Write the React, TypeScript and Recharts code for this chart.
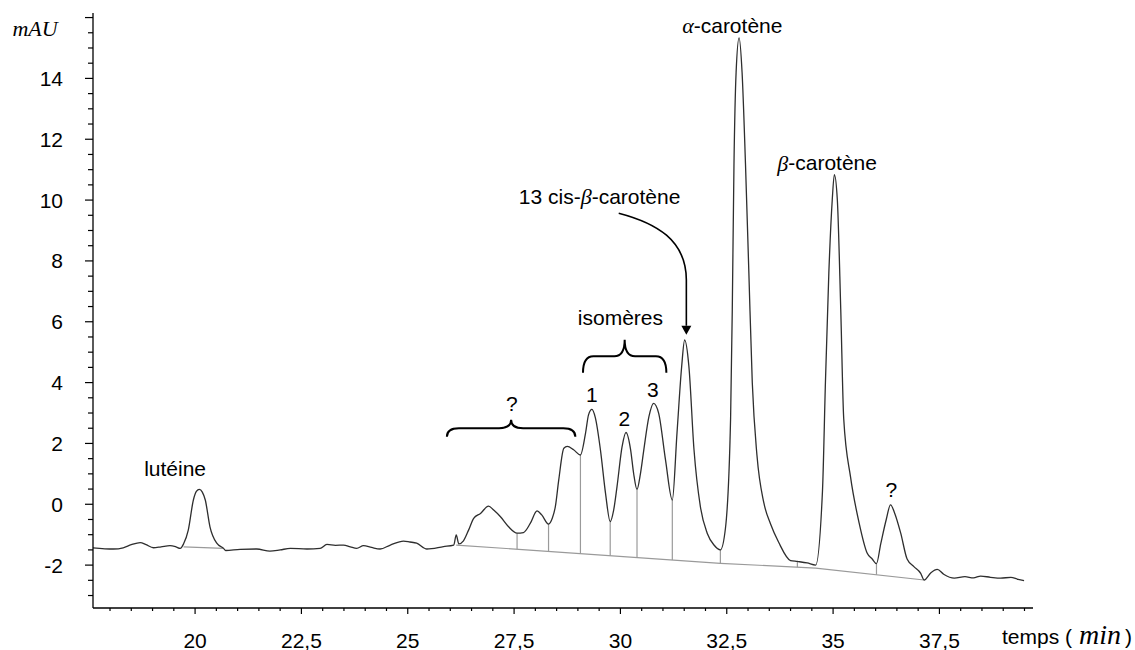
import React from "react";
import {
  LineChart,
  Line,
  XAxis,
  YAxis,
  ReferenceLine,
  ReferenceDot,
  ReferenceArea,
} from "recharts";

document.body.style.margin = "0";

// retention time (min) and absorbance (mAU)
const times = [
  17.6, 18.08, 18.31, 18.5, 18.71, 18.85, 19.02, 19.2, 19.41, 19.55, 19.65,
  19.73, 19.84, 19.96, 20.03, 20.1, 20.17, 20.24, 20.35, 20.51, 20.67, 20.72,
  21.06, 21.45, 21.76, 22.0, 22.24, 22.63, 22.94, 23.1, 23.3, 23.49, 23.65,
  23.8, 23.96, 24.15, 24.35, 24.59, 24.9, 25.05, 25.21, 25.45, 25.84, 26.08,
  26.14, 26.2, 26.31, 26.43, 26.55, 26.71, 26.9, 27.02, 27.18, 27.37, 27.57,
  27.72, 27.88, 28.04, 28.15, 28.31, 28.4, 28.47, 28.55, 28.67, 28.75, 28.9,
  29.06, 29.18, 29.25, 29.33, 29.41, 29.53, 29.65, 29.76, 29.84, 29.92, 30.04,
  30.13, 30.24, 30.31, 30.39, 30.47, 30.55, 30.67, 30.78, 30.9, 31.06, 31.22,
  31.33, 31.44, 31.51, 31.61, 31.73, 31.88, 32.04, 32.2, 32.35, 32.47, 32.59,
  32.63, 32.67, 32.72, 32.79, 32.86, 32.94, 33.02, 33.1, 33.21, 33.37, 33.53,
  33.72, 34.0, 34.16, 34.39, 34.59, 34.75, 34.82, 34.9, 34.98, 35.03, 35.1,
  35.18, 35.25, 35.41, 35.61, 35.8, 35.92, 36.02, 36.12, 36.25, 36.35, 36.45,
  36.59, 36.74, 36.9, 37.06, 37.14, 37.3, 37.45, 37.6, 37.85, 38.1, 38.3,
  38.47, 38.7, 38.94, 39.18, 39.35, 39.49,
];
const mAU = [
  -1.43, -1.47, -1.43, -1.33, -1.26, -1.33, -1.43, -1.4, -1.36, -1.4, -1.45,
  -1.3, -0.85, 0.14, 0.42, 0.49, 0.4, 0.14, -0.74, -1.28, -1.45, -1.52,
  -1.48, -1.47, -1.54, -1.5, -1.45, -1.47, -1.45, -1.32, -1.35, -1.34, -1.4,
  -1.45, -1.36, -1.42, -1.47, -1.34, -1.21, -1.24, -1.28, -1.47, -1.39, -1.34,
  -1.01, -1.3, -1.2, -0.85, -0.46, -0.3, -0.06, -0.19, -0.41, -0.74, -0.95,
  -0.93, -0.63, -0.22, -0.35, -0.65, -0.45, -0.08, 0.8, 1.84, 1.9, 1.79,
  1.62, 2.34, 2.94, 3.12, 2.85, 1.79, 0.36, -0.57, -0.2, 0.58, 1.9,
  2.36, 1.79, 1.02, 0.49, 1.0, 1.79, 2.88, 3.32, 2.99, 1.46, 0.14,
  2.34, 4.53, 5.4, 4.53, 1.79, -0.08, -0.95, -1.34, -1.5, -0.78, 2.81,
  6.41, 11.2, 14.2, 15.33, 14.2, 11.2, 7.6, 4.0, 1.61, 0.06, -0.65,
  -1.25, -1.85, -1.88, -1.93, -2.0, 0.42, 4.01, 7.6, 10.0, 10.84, 10.0,
  6.41, 2.81, 0.9, -0.6, -1.6, -1.8, -1.95, -1.3, -0.5, -0.02, -0.3,
  -0.95, -1.8, -2.05, -2.27, -2.49, -2.25, -2.14, -2.3, -2.43, -2.38, -2.42,
  -2.36, -2.4, -2.43, -2.4, -2.47, -2.51,
];

// integration baselines
const baseTimes = [26.14, 32.35, 34.59, 37.14];
const baseValues = [-1.34, -1.94, -2.1, -2.49];
const luteinBaseTimes = [19.73, 20.67];
const luteinBaseValues = [-1.4, -1.45];

// peak separation drop lines (time, signal at the valley)
const dropTimes = [27.57, 28.31, 29.06, 29.76, 30.39, 31.22, 32.35, 34.16, 36.02];
const dropTops = [-0.95, -0.65, 1.62, -0.57, 0.49, 0.14, -1.5, -1.88, -1.95];

const xMajorTicks = [20, 22.5, 25, 27.5, 30, 32.5, 35, 37.5];
const yMajorTicks = [-2, 0, 2, 4, 6, 8, 10, 12, 14];

const X_DOMAIN: [number, number] = [17.6, 39.7];
const Y_DOMAIN: [number, number] = [-3.41, 16.15];

const trace = times.map((t, i) => ({ t, v: mAU[i] }));
const baseline = baseTimes.map((t, i) => ({ t, v: baseValues[i] }));
const luteinBase = luteinBaseTimes.map((t, i) => ({ t, v: luteinBaseValues[i] }));

function baseAt(t: number) {
  for (let i = 0; i < baseTimes.length - 1; i++) {
    if (t >= baseTimes[i] && t <= baseTimes[i + 1]) {
      const f = (t - baseTimes[i]) / (baseTimes[i + 1] - baseTimes[i]);
      return baseValues[i] + f * (baseValues[i + 1] - baseValues[i]);
    }
  }
  return baseValues[baseValues.length - 1];
}

function steps(from: number, to: number, step: number) {
  const out: number[] = [];
  for (let v = from; v <= to + 1e-9; v += step) out.push(Math.round(v * 10) / 10);
  return out;
}
const xTicks = steps(18, 39.5, 0.5);
const yTicks = steps(-3, 16, 0.5);

const labels = [
  { t: 19.53, v: 1.17, text: "lutéine" },
  { t: 27.45, v: 3.32, text: "?" },
  { t: 29.33, v: 3.61, text: "1" },
  { t: 30.09, v: 2.81, text: "2" },
  { t: 30.76, v: 3.77, text: "3" },
  { t: 30.0, v: 6.15, text: "isomères" },
  { t: 36.37, v: 0.5, text: "?" },
];
const greekLabels = [
  { t: 32.63, v: 15.75, pre: "", greek: "α", text: "-carotène", anchor: "middle" },
  { t: 34.86, v: 11.23, pre: "", greek: "β", text: "-carotène", anchor: "middle" },
  { t: 31.41, v: 10.12, pre: "13 cis-", greek: "β", text: "-carotène", anchor: "end" },
];

const SANS = "Liberation Sans, Arial, sans-serif";
const SERIF = "Liberation Serif, Times New Roman, serif";
const FS = 21;

const fmt = (v: number) => String(v).replace(".", ",");

function XTick({ x, y, payload }: any) {
  const major = xMajorTicks.includes(payload.value);
  return (
    <g>
      <line x1={x} x2={x} y1={y} y2={y + (major ? 6 : 3)} stroke="#000" strokeWidth={1.2} />
      {major && (
        <text x={x} y={y + 32} textAnchor="middle" dominantBaseline="central" fontFamily={SANS} fontSize={FS} fill="#000">
          {fmt(payload.value)}
        </text>
      )}
    </g>
  );
}

function YTick({ x, y, payload }: any) {
  const major = Number.isInteger(payload.value) && payload.value % 2 === 0;
  const labelled = yMajorTicks.includes(payload.value);
  return (
    <g>
      <line x1={x} x2={x - (major ? 8 : 5)} y1={y} y2={y} stroke="#000" strokeWidth={1.2} />
      {labelled && (
        <text x={x - 30} y={y} textAnchor="end" dominantBaseline="central" fontFamily={SANS} fontSize={FS} fill="#000">
          {payload.value}
        </text>
      )}
    </g>
  );
}

function Brace({ x, y, width, height }: any) {
  const mid = y + height * 0.5;
  const cx = x + width / 2;
  const r = Math.min(12, width / 8);
  const d =
    `M${x},${y + height} Q${x},${mid} ${x + r},${mid} L${cx - r},${mid} ` +
    `Q${cx},${mid} ${cx},${y} Q${cx},${mid} ${cx + r},${mid} ` +
    `L${x + width - r},${mid} Q${x + width},${mid} ${x + width},${y + height}`;
  return <path d={d} fill="none" stroke="#000" strokeWidth={2} />;
}

function CurvedArrow({ x, y, width, height }: any) {
  const ex = x + width;
  const ey = y + height;
  const head = 9;
  const d = `M${x},${y} C${x + width * 0.55},${y + height * 0.08} ${ex},${y + height * 0.22} ${ex},${y + height * 0.55} L${ex},${ey - head}`;
  return (
    <g>
      <path d={d} fill="none" stroke="#000" strokeWidth={1.6} />
      <polygon points={`${ex - 5},${ey - head} ${ex + 5},${ey - head} ${ex},${ey}`} fill="#000" />
    </g>
  );
}

export default function App() {
  return (
    <div style={{ position: "relative", width: 1135, height: 650, background: "#fff" }}>
      <LineChart width={1135} height={650} margin={{ top: 13, right: 102, bottom: 0, left: 0 }}>
        <XAxis
          dataKey="t"
          type="number"
          domain={X_DOMAIN}
          allowDataOverflow
          ticks={xTicks}
          interval={0}
          tickSize={0}
          tickMargin={0}
          tickLine={false}
          tick={(p: any) => <XTick {...p} />}
          axisLine={{ stroke: "#000", strokeWidth: 1.3 }}
          height={42}
        />
        <YAxis
          type="number"
          domain={Y_DOMAIN}
          allowDataOverflow
          ticks={yTicks}
          interval={0}
          tickSize={0}
          tickMargin={0}
          tickLine={false}
          tick={(p: any) => <YTick {...p} />}
          axisLine={{ stroke: "#000", strokeWidth: 1.3 }}
          width={93}
        />

        {dropTimes.map((t, i) => (
          <ReferenceLine
            key={t}
            segment={[{ x: t, y: dropTops[i] }, { x: t, y: baseAt(t) }]}
            stroke="#9a9a9a"
            strokeWidth={1.2}
          />
        ))}

        <Line data={baseline} dataKey="v" type="linear" stroke="#9a9a9a" strokeWidth={1.2} dot={false} isAnimationActive={false} />
        <Line data={luteinBase} dataKey="v" type="linear" stroke="#9a9a9a" strokeWidth={1.2} dot={false} isAnimationActive={false} />
        <Line data={trace} dataKey="v" type="monotone" stroke="#2e2e2e" strokeWidth={1.3} dot={false} isAnimationActive={false} />

        <ReferenceArea x1={25.92} x2={28.94} y1={2.22} y2={2.78} ifOverflow="visible" shape={(p: any) => <Brace {...p} />} />
        <ReferenceArea x1={29.12} x2={31.08} y1={4.32} y2={5.41} ifOverflow="visible" shape={(p: any) => <Brace {...p} />} />
        <ReferenceArea x1={29.96} x2={31.55} y1={5.57} y2={9.57} ifOverflow="visible" shape={(p: any) => <CurvedArrow {...p} />} />

        {labels.map((l, i) => (
          <ReferenceDot
            key={"l" + i}
            x={l.t}
            y={l.v}
            r={1}
            ifOverflow="visible"
            shape={(p: any) => (
              <text x={p.cx} y={p.cy} textAnchor="middle" dominantBaseline="central" fontFamily={SANS} fontSize={FS} fill="#000">
                {l.text}
              </text>
            )}
          />
        ))}
        {greekLabels.map((l, i) => (
          <ReferenceDot
            key={"g" + i}
            x={l.t}
            y={l.v}
            r={1}
            ifOverflow="visible"
            shape={(p: any) => (
              <text x={p.cx} y={p.cy} textAnchor={l.anchor} dominantBaseline="central" fontFamily={SANS} fontSize={FS} fill="#000">
                {l.pre}
                <tspan fontFamily={SERIF} fontStyle="italic" fontSize={22}>
                  {l.greek}
                </tspan>
                {l.text}
              </text>
            )}
          />
        ))}
      </LineChart>

      <svg width={1135} height={650} style={{ position: "absolute", left: 0, top: 0, pointerEvents: "none" }}>
        <text x={35} y={36} textAnchor="middle" fontFamily={SERIF} fontStyle="italic" fontSize={22} fill="#000">
          mAU
        </text>
        <text x={1002} y={644} fontFamily={SANS} fontSize={FS} fill="#000">
          temps (
          <tspan fontFamily={SERIF} fontStyle="italic" fontSize={28}> min</tspan>
          <tspan dx={4}>)</tspan>
        </text>
      </svg>
    </div>
  );
}
